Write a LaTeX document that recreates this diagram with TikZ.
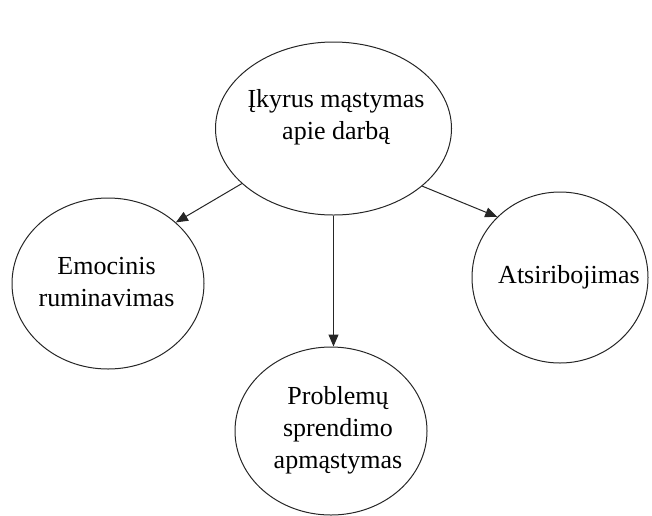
\documentclass[tikz,border=0pt]{standalone}
\usepackage{fontspec}
\setmainfont{Liberation Serif}
\usetikzlibrary{shapes.geometric,arrows.meta}
\tikzset{
  oval/.style={draw=black!85, line width=1pt, ellipse, inner sep=0pt},
  txt/.style={align=center, inner sep=0pt, font=\fontsize{26}{32}\selectfont},
  conn/.style={draw=black!85, line width=1pt, -{Triangle[length=12pt,width=10pt]}}
}
\begin{document}
\begin{tikzpicture}[x=1pt,y=-1pt]
\useasboundingbox (0,0) rectangle (652,515);
\node[oval, minimum width=236pt, minimum height=173pt] (top) at (333.5,128.5) {};
\node[oval, minimum width=192pt, minimum height=171pt] (left) at (108,283.5) {};
\node[oval, minimum width=176pt, minimum height=171pt] (right) at (560,277.5) {};
\node[oval, minimum width=192pt, minimum height=168pt] (bottom) at (331,431) {};
\node[txt] (toptext) at (336,117) {Įkyrus mąstymas\\apie darbą};
\node[txt] (lefttext) at (106.5,282) {Emocinis\\ruminavimas};
\node[txt] (righttext) at (569,277) {Atsiribojimas};
\node[txt] (bottomtext) at (338,430) {Problemų\\sprendimo\\apmąstymas};
\draw[conn] (top.211.6) -- (left.42.5);
\draw[conn] (top.-33.2) -- (right.136.2);
\draw[conn] (top.south) -- (top.south |- bottom.north);
\end{tikzpicture}
\end{document}
